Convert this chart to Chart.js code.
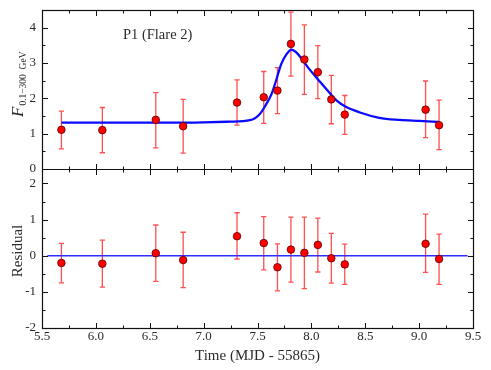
<!DOCTYPE html>
<html>
<head>
<meta charset="utf-8">
<script src="https://cdn.jsdelivr.net/npm/chart.js@4.4.0/dist/chart.umd.min.js"></script>
<style>
  html, body { margin: 0; padding: 0; background: #fff; }
  canvas { display: block; }
</style>
</head>
<body>
<canvas id="c" width="491" height="370"></canvas>
<script>
// light curve points (MJD - 55865) and flux with error bar ends
const timeX  = [5.68, 6.06, 6.556, 6.81, 7.31, 7.558, 7.685, 7.81, 7.935, 8.06, 8.185, 8.31, 9.06, 9.185];
const flux   = [1.11, 1.10, 1.39, 1.21, 1.88, 2.03, 2.22, 3.54, 3.10, 2.74, 1.97, 1.54, 1.68, 1.24];
const fluxHi = [1.64, 1.74, 2.16, 1.97, 2.52, 2.76, 2.87, 4.44, 4.08, 3.49, 2.65, 2.08, 2.49, 1.95];
const fluxLo = [0.57, 0.46, 0.60, 0.45, 1.24, 1.29, 1.57, 2.63, 2.11, 1.99, 1.28, 0.98, 0.89, 0.55];

// residuals
const resid   = [-0.20, -0.22, 0.07, -0.12, 0.54, 0.35, -0.32, 0.17, 0.08, 0.30, -0.07, -0.24, 0.33, -0.09];
const residHi = [0.34, 0.43, 0.85, 0.65, 1.19, 1.08, 0.33, 1.07, 1.07, 1.04, 0.62, 0.32, 1.15, 0.60];
const residLo = [-0.75, -0.87, -0.71, -0.88, -0.09, -0.39, -0.97, -0.73, -0.91, -0.45, -0.76, -0.79, -0.46, -0.79];

// fitted flare profile
const fitX = [5.68, 6.2, 6.7, 7.0, 7.245, 7.43, 7.52, 7.58, 7.63, 7.676, 7.72, 7.77, 7.815, 7.86, 7.907, 7.97, 8.046, 8.14, 8.23, 8.32, 8.45, 8.63, 8.82, 9.0, 9.185];
const fitY = [1.31, 1.31, 1.31, 1.32, 1.34, 1.38, 1.55, 1.83, 2.12, 2.54, 2.97, 3.25, 3.38, 3.30, 3.13, 2.87, 2.59, 2.26, 1.95, 1.76, 1.60, 1.45, 1.39, 1.36, 1.33];

// zero line in the residual panel
const zeroX = [5.55, 9.45];

const SERIF = '"Liberation Serif", "DejaVu Serif", serif';
const TEXT = '#2b2b2b';
Chart.defaults.font.family = SERIF;

const decor = {
  id: 'decor',
  beforeDatasetsDraw(chart) {
    const ctx = chart.ctx;
    const xs = chart.scales.x;
    ctx.save();
    ctx.strokeStyle = 'rgba(255,20,20,0.75)';
    ctx.lineWidth = 1.3;
    const bars = (sc, lo, hi) => {
      for (let i = 0; i < timeX.length; i++) {
        const px = xs.getPixelForValue(timeX[i]);
        const p1 = sc.getPixelForValue(lo[i]);
        const p2 = sc.getPixelForValue(hi[i]);
        ctx.beginPath();
        ctx.moveTo(px, p1); ctx.lineTo(px, p2);
        ctx.moveTo(px - 2.6, p1); ctx.lineTo(px + 2.6, p1);
        ctx.moveTo(px - 2.6, p2); ctx.lineTo(px + 2.6, p2);
        ctx.stroke();
      }
    };
    bars(chart.scales.y, fluxLo, fluxHi);
    bars(chart.scales.yr, residLo, residHi);
    ctx.restore();
  },
  afterDraw(chart) {
    const ctx = chart.ctx;
    const a = chart.chartArea;
    const {x, y, yr} = chart.scales;
    const mid = Math.round(y.bottom) + 0.5;
    const L = Math.round(a.left) + 0.5, R = Math.round(a.right) + 0.5;
    const T = Math.round(a.top) + 0.5, B = Math.round(a.bottom) + 0.5;
    ctx.save();
    ctx.strokeStyle = '#111';
    ctx.lineWidth = 1.2;
    ctx.strokeRect(L, T, R - L, B - T);
    ctx.beginPath(); ctx.moveTo(L, mid); ctx.lineTo(R, mid); ctx.stroke();

    ctx.lineWidth = 1;
    ctx.beginPath();
    for (let v = x.min; v <= x.max + 1e-9; v += 0.25) {
      const px = Math.round(x.getPixelForValue(v)) + 0.5;
      const major = Math.abs(v * 2 - Math.round(v * 2)) < 1e-6;
      const len = major ? 5.5 : 3;
      ctx.moveTo(px, B); ctx.lineTo(px, B - len);
      ctx.moveTo(px, T); ctx.lineTo(px, T + len);
      ctx.moveTo(px, mid - len); ctx.lineTo(px, mid + len);
    }
    [y, yr].forEach(s => {
      for (let v = Math.ceil(s.min * 2) / 2; v <= s.max + 1e-9; v += 0.5) {
        const py = Math.round(s.getPixelForValue(v)) + 0.5;
        const len = Number.isInteger(v) ? 5.5 : 3;
        ctx.moveTo(L, py); ctx.lineTo(L + len, py);
        ctx.moveTo(R, py); ctx.lineTo(R - len, py);
      }
    });
    ctx.stroke();

    // panel label
    ctx.fillStyle = TEXT;
    ctx.textBaseline = 'middle';
    ctx.textAlign = 'left';
    ctx.font = '14.5px ' + SERIF;
    ctx.fillText('P1 (Flare 2)', a.left + 81, a.top + 25);

    // y titles
    ctx.save();
    ctx.translate(23, 117);
    ctx.rotate(-Math.PI / 2);
    ctx.textBaseline = 'alphabetic';
    ctx.font = 'italic 17px ' + SERIF;
    ctx.fillText('F', 0, 0);
    const fw = ctx.measureText('F').width;
    ctx.font = '9.5px ' + SERIF;
    ctx.fillText('0.1\u2212300  GeV', fw + 1, 3);
    ctx.restore();

    ctx.save();
    ctx.translate(22, 251);
    ctx.rotate(-Math.PI / 2);
    ctx.textAlign = 'center';
    ctx.textBaseline = 'alphabetic';
    ctx.font = '15px ' + SERIF;
    ctx.fillText('Residual', 0, 0);
    ctx.restore();
    ctx.restore();
  }
};

const tickFont = { family: SERIF, size: 13 };

function fixY(s) {
  s.width = 42;
  s.paddingTop = 0;
  s.paddingBottom = 0;
}

new Chart(document.getElementById('c'), {
  type: 'scatter',
  data: {
    datasets: [
      {
        label: 'flux',
        data: timeX.map((t, i) => ({ x: t, y: flux[i] })),
        yAxisID: 'y',
        pointRadius: 3.8,
        backgroundColor: '#ff0000',
        borderColor: '#5a0000',
        borderWidth: 0.8,
        order: 0
      },
      {
        label: 'residual',
        data: timeX.map((t, i) => ({ x: t, y: resid[i] })),
        yAxisID: 'yr',
        pointRadius: 3.8,
        backgroundColor: '#ff0000',
        borderColor: '#5a0000',
        borderWidth: 0.8,
        order: 0
      },
      {
        type: 'line',
        label: 'fit',
        data: fitX.map((t, i) => ({ x: t, y: fitY[i] })),
        yAxisID: 'y',
        borderColor: '#0a0aff',
        borderWidth: 2.3,
        pointRadius: 0,
        cubicInterpolationMode: 'monotone',
        fill: false,
        order: 1
      },
      {
        type: 'line',
        label: 'zero',
        data: zeroX.map(t => ({ x: t, y: 0 })),
        yAxisID: 'yr',
        borderColor: '#2f2fff',
        borderWidth: 1.3,
        pointRadius: 0,
        fill: false,
        order: 1
      }
    ]
  },
  options: {
    responsive: false,
    animation: false,
    devicePixelRatio: 1,
    layout: { padding: { top: 10, right: 18, left: 0, bottom: 0 } },
    plugins: { legend: { display: false }, tooltip: { enabled: false } },
    scales: {
      x: {
        type: 'linear',
        position: 'bottom',
        min: 5.5,
        max: 9.5,
        grid: { display: false, drawTicks: false },
        border: { display: false },
        ticks: { stepSize: 0.5, padding: 1, autoSkip: false, maxRotation: 0, color: TEXT, font: tickFont, callback: v => v.toFixed(1) },
        title: { display: true, text: 'Time (MJD - 55865)', color: TEXT, font: { family: SERIF, size: 15 }, padding: { top: 0, bottom: 5 } },
        afterFit(s) { s.height = 42; s.paddingLeft = 0; s.paddingRight = 0; }
      },
      yr: {
        type: 'linear',
        position: 'left',
        stack: 'panels',
        stackWeight: 1,
        weight: 1,
        min: -2,
        max: 2.4,
        grid: { display: false, drawTicks: false },
        border: { display: false },
        ticks: { stepSize: 1, padding: 6, autoSkip: false, includeBounds: false, color: TEXT, font: tickFont },
        afterFit: fixY
      },
      y: {
        type: 'linear',
        position: 'left',
        stack: 'panels',
        stackWeight: 1,
        weight: 2,
        min: 0,
        max: 4.5,
        grid: { display: false, drawTicks: false },
        border: { display: false },
        ticks: { stepSize: 1, padding: 6, autoSkip: false, includeBounds: false, color: TEXT, font: tickFont },
        afterFit: fixY
      }
    }
  },
  plugins: [decor]
});
</script>
</body>
</html>
